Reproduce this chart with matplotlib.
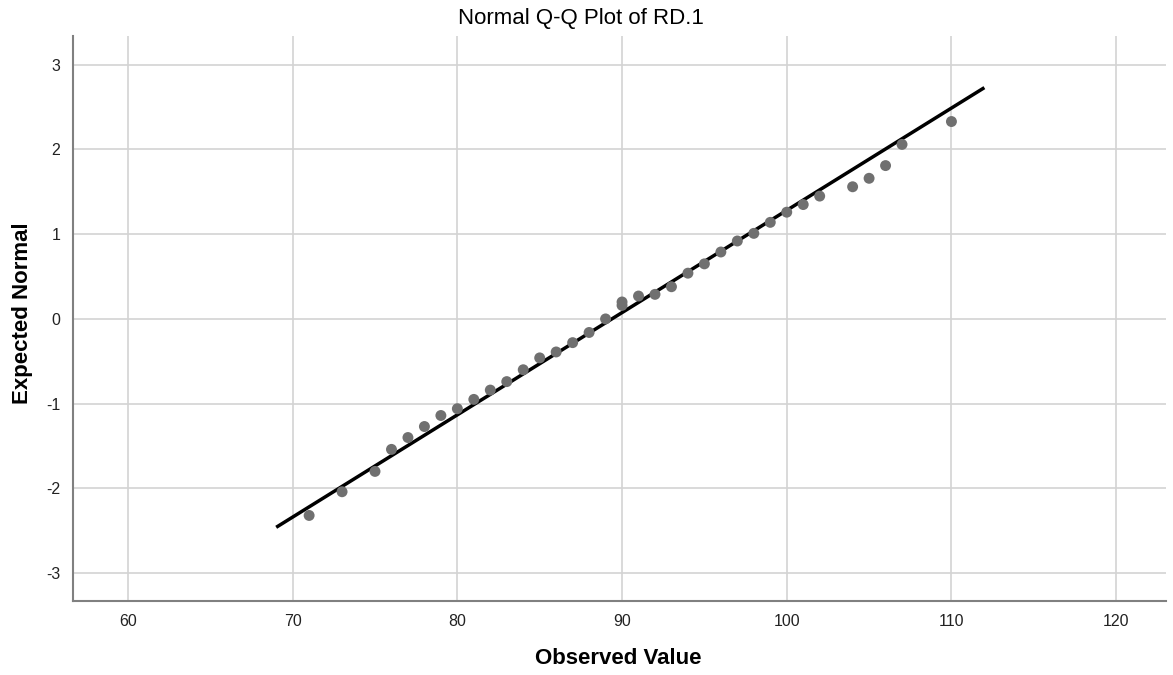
import matplotlib
matplotlib.use("Agg")
import matplotlib.pyplot as plt
import numpy as np

plt.rcParams['font.family'] = ['Liberation Sans', 'DejaVu Sans']
plt.rcParams['axes.unicode_minus'] = False

# observed values and their expected normal scores
observed = [71, 73, 75, 76, 77, 78, 79, 80, 81, 82, 83, 84, 85, 86, 87, 88, 89,
            90, 90, 91, 92, 93, 94, 95, 96, 97, 98, 99, 100, 101, 102,
            104, 105, 106, 107, 110]
expected = [-2.32, -2.04, -1.80, -1.54, -1.40, -1.27, -1.14, -1.06, -0.95, -0.84,
            -0.74, -0.60, -0.46, -0.39, -0.28, -0.16, 0.00,
            0.16, 0.20, 0.27, 0.29, 0.38, 0.54, 0.65, 0.79, 0.92, 1.01, 1.14,
            1.26, 1.35, 1.45, 1.56, 1.66, 1.81, 2.06, 2.33]

# reference line: normal fit
mean = 89.38
sd = 8.285
line_x = [69, 112]

x_ticks = [60, 70, 80, 90, 100, 110, 120]
y_ticks = [-3, -2, -1, 0, 1, 2, 3]

fig = plt.figure(figsize=(11.73, 6.75), dpi=100)
ax = fig.add_axes([0.0622, 0.1096, 0.932, 0.8371])

ax.grid(True, color='#d3d3d3', linewidth=1.2)
ax.set_axisbelow(True)

lx = np.array(line_x)
ax.plot(lx, (lx - mean) / sd, color='black', linewidth=2.5, solid_capstyle='butt', zorder=2)
ax.scatter(observed, expected, s=62, color='#707070', edgecolors='none', zorder=3)

ax.set_xlim(56.66, 123.04)
ax.set_ylim(-3.33, 3.34)
ax.set_xticks(x_ticks)
ax.set_yticks(y_ticks)
ax.tick_params(length=0, labelsize=11.5, colors='#222222', pad=9)

for s in ['top', 'right']:
    ax.spines[s].set_visible(False)
for s in ['left', 'bottom']:
    ax.spines[s].set_color('#808080')
    ax.spines[s].set_linewidth(1.5)

fig.text(0.495, 0.973, 'Normal Q-Q Plot of RD.1', ha='center', va='center', fontsize=16)
fig.text(0.527, 0.025, 'Observed Value', ha='center', va='center', fontsize=16, fontweight='bold')
fig.text(0.019, 0.536, 'Expected Normal', ha='center', va='center', rotation=90,
         fontsize=16, fontweight='bold')

plt.savefig('out.png', dpi=100)
plt.close()
